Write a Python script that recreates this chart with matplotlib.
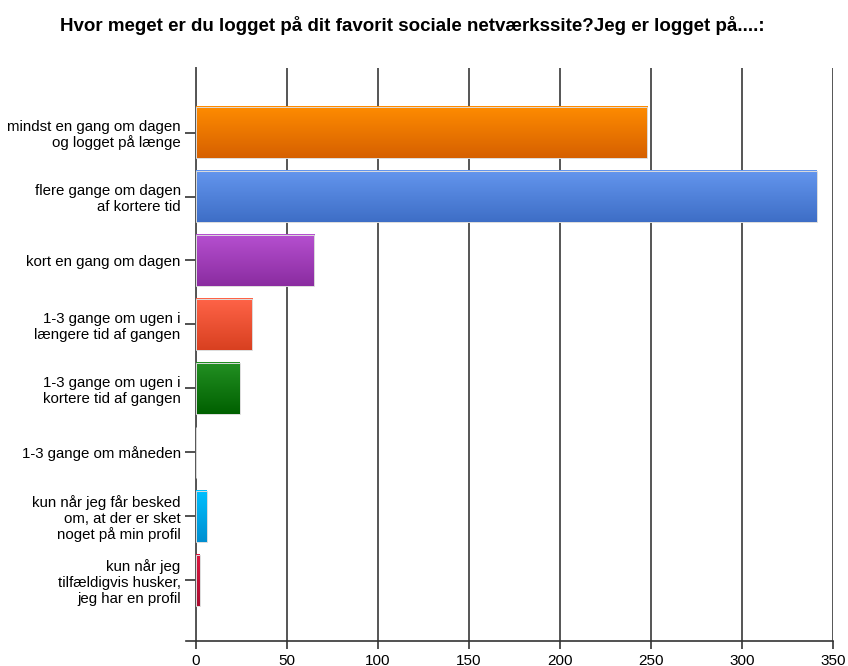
import numpy as np
import matplotlib.pyplot as plt
from matplotlib.colors import LinearSegmentedColormap

plt.rcParams['font.family'] = ['Liberation Sans', 'DejaVu Sans']

categories = [
    "mindst en gang om dagen\nog logget på længe",
    "flere gange om dagen\naf kortere tid",
    "kort en gang om dagen",
    "1-3 gange om ugen i\nlængere tid af gangen",
    "1-3 gange om ugen i\nkortere tid af gangen",
    "1-3 gange om måneden",
    "kun når jeg får besked\nom, at der er sket\nnoget på min profil",
    "kun når jeg\ntilfældigvis husker,\njeg har en profil",
]
counts = [248, 341, 65, 31, 24, 0, 6, 2]

# top / bottom colours of each bar's vertical gradient
top_colors = ["#ff8c00", "#6496ee", "#b650d0", "#ff6448", "#239023", "#a0a0a0", "#00c0ff", "#dc1840"]
bottom_colors = ["#d66000", "#3e6ec6", "#8a2ca0", "#d84020", "#006000", "#808080", "#008ed0", "#a80c30"]

title = "Hvor meget er du logget på dit favorit sociale netværkssite?Jeg er logget på....:"

fig = plt.figure(figsize=(8.48, 6.66), dpi=100)
ax = fig.add_axes([0.2311, 0.0375, 0.7512, 0.8604])

y = np.arange(len(categories))
bar_h = 0.8
bars = ax.barh(y, counts, height=bar_h, color="none", edgecolor="#dcdcdc", linewidth=0.7, zorder=4)

grad = np.linspace(0, 1, 256).reshape(-1, 1)
for b, c0, c1 in zip(bars, top_colors, bottom_colors):
    w = b.get_width()
    if w <= 0:
        continue
    x0, y0, h = b.get_x(), b.get_y(), b.get_height()
    cmap = LinearSegmentedColormap.from_list("g", [c0, c1])
    ax.imshow(grad, cmap=cmap, aspect="auto", extent=(x0, x0 + w, y0 + h, y0),
              origin="upper", zorder=3, interpolation="bilinear")

ymax = len(categories) - 1 + 0.95
ax.set_xlim(0, 350)
ax.set_ylim(ymax, -1.01)
ax.set_xticks(np.arange(0, 351, 50))
ax.set_yticks(y)
ax.set_yticklabels(categories, fontsize=10.8, linespacing=1.15)
ax.tick_params(axis="x", labelsize=11, length=6, width=1.2, color="#333333", pad=3)
ax.tick_params(axis="y", length=8, width=1.2, color="#333333", pad=3)

ax.grid(axis="x", color="#555555", linewidth=1.4, zorder=1)
ax.set_axisbelow(True)
for side in ["top", "right", "bottom"]:
    ax.spines[side].set_visible(False)
ax.spines["left"].set_color("#555555")
ax.spines["left"].set_linewidth(1.4)
# baseline runs a little past the value axis on the left
ax.plot([-5.5, 350], [ymax, ymax], color="#333333", linewidth=1.2, clip_on=False, zorder=5)

fig.text(0.486, 0.962, title, ha="center", va="center", fontsize=13.5, fontweight="bold")

fig.savefig("out.png", dpi=100)
